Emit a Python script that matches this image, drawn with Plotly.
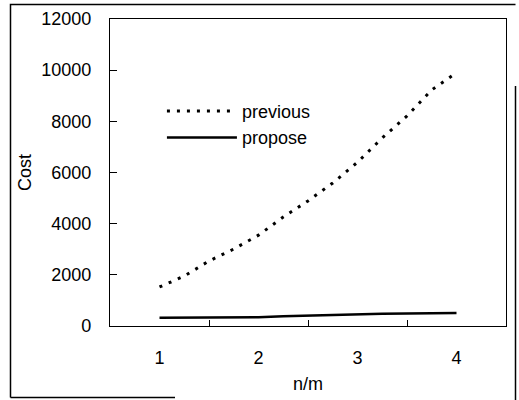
import plotly.graph_objects as go

x_vals = [1.0, 1.25, 1.5, 1.75, 2.0, 2.25, 2.5, 2.75, 3.0, 3.25, 3.5, 3.75, 4.0]
previous = [1525, 1950, 2540, 3010, 3550, 4260, 4890, 5590, 6400, 7350, 8210, 9230, 9900]
propose = [320, 320, 330, 330, 340, 380, 410, 430, 470, 480, 490, 500, 510]
x_ticks = [1, 2, 3, 4]
y_ticks = [0, 2000, 4000, 6000, 8000, 10000, 12000]
y_tick_text = [str(v) for v in y_ticks]

FONT = "Liberation Sans, Arial, sans-serif"

fig = go.Figure()
fig.add_trace(go.Scatter(x=x_vals, y=previous, mode="lines", name="previous",
                         line=dict(color="black", width=3, dash="3px,7px")))
fig.add_trace(go.Scatter(x=x_vals, y=propose, mode="lines", name="propose",
                         line=dict(color="black", width=2.5)))

fig.update_layout(
    width=519, height=400,
    margin=dict(l=0, r=0, t=0, b=0, autoexpand=False),
    paper_bgcolor="white", plot_bgcolor="white",
    font=dict(family=FONT, size=18, color="black"),
    showlegend=True,
    legend=dict(x=0.312, y=0.768, xanchor="left", yanchor="top", itemwidth=70,
                bgcolor="rgba(0,0,0,0)", font=dict(size=18), tracegroupgap=0),
    xaxis=dict(domain=[0.21195, 0.97495], range=[0.5, 4.5], tickvals=x_ticks,
               ticks="", showgrid=False,
               zeroline=False, showline=True, linecolor="black", linewidth=1.2,
               mirror=True, ticklabelstandoff=15, automargin=False,
               minor=dict(tickvals=[1.5, 2.5, 3.5], ticks="inside", ticklen=6,
                          tickcolor="black", showgrid=False),
               title=dict(text="n/m", standoff=10, font=dict(size=18))),
    yaxis=dict(domain=[0.185, 0.9525], range=[0, 12000], tickvals=y_ticks,
               ticktext=y_tick_text,
               ticks="inside", ticklen=7, automargin=False,
               tickcolor="black", showgrid=False, zeroline=False, showline=True,
               linecolor="black", linewidth=1.2, mirror=True, ticklabelstandoff=14,
               title=dict(text="Cost", standoff=4, font=dict(size=18))),
)

# outer (scanned) frame around the figure, in paper units (paper = whole figure)
fx0, fx1 = 0.02023, 0.99326
fy_top, fy_bot = 0.98875, 0.00625
frame_path = (f"M {fx0},{fy_bot} L {fx0},{fy_top} L {fx1},{fy_top} "
              f"M {fx1},0.785 L {fx1},0 "
              f"M {fx0},{fy_bot} L 0.3372,{fy_bot}")
fig.add_shape(type="path", xref="paper", yref="paper", path=frame_path,
              layer="above", line=dict(color="black", width=1.5))

fig.write_html("out.html", config={"displayModeBar": False},
               post_script="document.body.style.margin='0';")
